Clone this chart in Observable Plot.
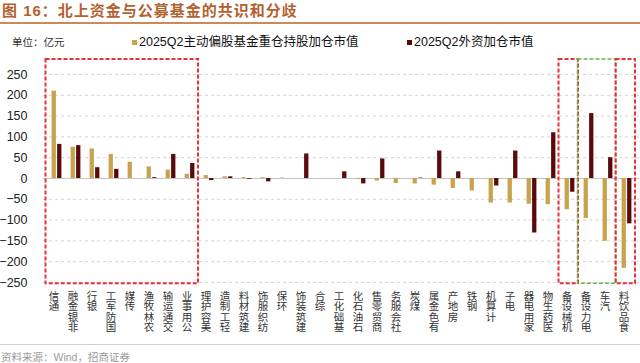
<!DOCTYPE html>
<html><head><meta charset="utf-8">
<script src="https://cdn.jsdelivr.net/npm/d3@7"></script>
<script src="https://cdn.jsdelivr.net/npm/@observablehq/plot@0.6"></script>
<style>
body{margin:0;width:640px;height:363px;overflow:hidden;background:#fff;font-family:"Liberation Sans","Noto Sans CJK SC",sans-serif;position:relative}
#title{position:absolute;left:2px;top:2px;font-size:15px;font-weight:bold;color:#B3612E;letter-spacing:1px;white-space:nowrap;line-height:18px}
#rule{position:absolute;left:0;top:22px;width:640px;height:2px;background:#C98A5E}
#unit{position:absolute;left:12px;top:35px;font-size:10.5px;color:#333;line-height:14px}
.leg{position:absolute;top:34px;font-size:12.5px;color:#111;white-space:nowrap;line-height:16px}
.sw{position:absolute;left:-7px;top:5.5px;width:5px;height:5px}
#chart{position:absolute;left:0;top:50px}
#bottomline{position:absolute;left:0;top:344px;width:640px;height:1px;background:#cfcfcf}
#source{position:absolute;left:1px;top:350px;font-size:10.5px;color:#9a9a9a;line-height:14px;white-space:nowrap}
.vlabel text{writing-mode:vertical-rl;text-orientation:upright}
</style>
</head><body>
<div id="title"></div>
<div id="rule"></div>
<div id="unit"></div>
<div class="leg" id="leg0" style="left:139px"><span class="sw" id="sw0"></span><span id="lt0"></span></div>
<div class="leg" id="leg1" style="left:414px"><span class="sw" id="sw1"></span><span id="lt1"></span></div>
<div id="chart"></div>
<div id="bottomline"></div>
<div id="source"></div>
<script>
const titleText = "图 16：北上资金与公募基金的共识和分歧";
const unitText = "单位：亿元";
const sourceText = "资料来源：Wind，招商证券";
const seriesNames = ["2025Q2主动偏股基金重仓持股加仓市值", "2025Q2外资加仓市值"];
const seriesColors = ["#C9A24E", "#5B0A0C"];
const categories = ["通信","非银金融","银行","国防军工","传媒","农林牧渔","交通运输","公用事业","美容护理","轻工制造","建筑材料","纺织服饰","环保","建筑装饰","综合","基础化工","石油石化","商贸零售","社会服务","煤炭","有色金属","房地产","钢铁","计算机","电子","家用电器","医药生物","机械设备","电力设备","汽车","食品饮料"];
const fundAdd = [210,75,71,58,39,28,20,10,7,4,2,2,1,0,0,0,-2,-6,-12,-13,-16,-24,-30,-59,-59,-62,-63,-75,-96,-151,-216];
const foreignAdd = [82,79,26,22,0,2,58,36,-5,4,-2,-8,0,59,0,16,-13,47,0,1,66,16,0,-18,66,-131,110,-33,156,50,-109];
const yTicks = [250,200,150,100,50,0,-50,-100,-150,-200,-250];
const highlightFrom = ["通信","机械设备","电力设备","食品饮料"];
const highlightTo = ["公用事业","机械设备","汽车","食品饮料"];
const highlightColors = ["#E5323B","#E5323B","#6DB04B","#E5323B"];
const highlightTop = 286, highlightBottom = -253;

document.getElementById("title").textContent = titleText;
document.getElementById("unit").textContent = unitText;
document.getElementById("source").textContent = sourceText;
[0,1].forEach(k => {
  document.getElementById("lt"+k).textContent = seriesNames[k];
  document.getElementById("sw"+k).style.background = seriesColors[k];
});

const rows = categories.map((c, i) => ({cat: c, fund: fundAdd[i], foreign: foreignAdd[i]}));

const boxes = (index, scales) => {
  const {x, y} = scales;
  const g = d3.create("svg:g").attr("fill", "none");
  highlightFrom.forEach((from, k) => {
    const x1 = x(from) - 1.5;
    const x2 = x(highlightTo[k]) + x.bandwidth() - 1;
    const y1 = y(highlightTop), y2 = y(highlightBottom);
    g.append("rect")
      .attr("x", x1).attr("y", y1)
      .attr("width", x2 - x1).attr("height", y2 - y1)
      .attr("stroke", highlightColors[k])
      .attr("stroke-width", k === 2 ? 1.5 : 2)
      .attr("stroke-dasharray", "4,2");
  });
  return g.node();
};

const chart = Plot.plot({
  width: 640,
  height: 294,
  marginTop: 24,
  marginBottom: 62,
  marginLeft: 43,
  marginRight: 1,
  style: {fontFamily: '"Liberation Sans","Noto Sans CJK SC",sans-serif', background: "transparent"},
  x: {type: "band", domain: categories, padding: 0, axis: null},
  y: {domain: [-250, 250]},
  marks: [
    Plot.gridY(yTicks, {stroke: "#d4d4d4", strokeOpacity: 1, strokeDasharray: "3,3"}),
    Plot.ruleY([0], {stroke: "#c4c4c4"}),
    Plot.barY(rows, {x: "cat", y: "fund", fill: seriesColors[0], insetLeft: 4.6, insetRight: 10.1}),
    Plot.barY(rows, {x: "cat", y: "foreign", fill: seriesColors[1], insetLeft: 10.1, insetRight: 4.6}),
    boxes,
    Plot.axisY(yTicks, {tickSize: 0, tickPadding: 16, fontSize: 12.5, fill: "#222", label: null}),
    Plot.text(categories, {
      x: d => d, text: d => [...d].reverse().join(""),
      frameAnchor: "bottom", lineAnchor: "bottom", textAnchor: "start",
      dy: 8, dx: -3, fontSize: 10.5, fill: "#333", className: "vlabel",
      fontFamily: '"Noto Sans CJK SC",sans-serif'
    })
  ]
});
document.getElementById("chart").appendChild(chart);
</script>
</body></html>
